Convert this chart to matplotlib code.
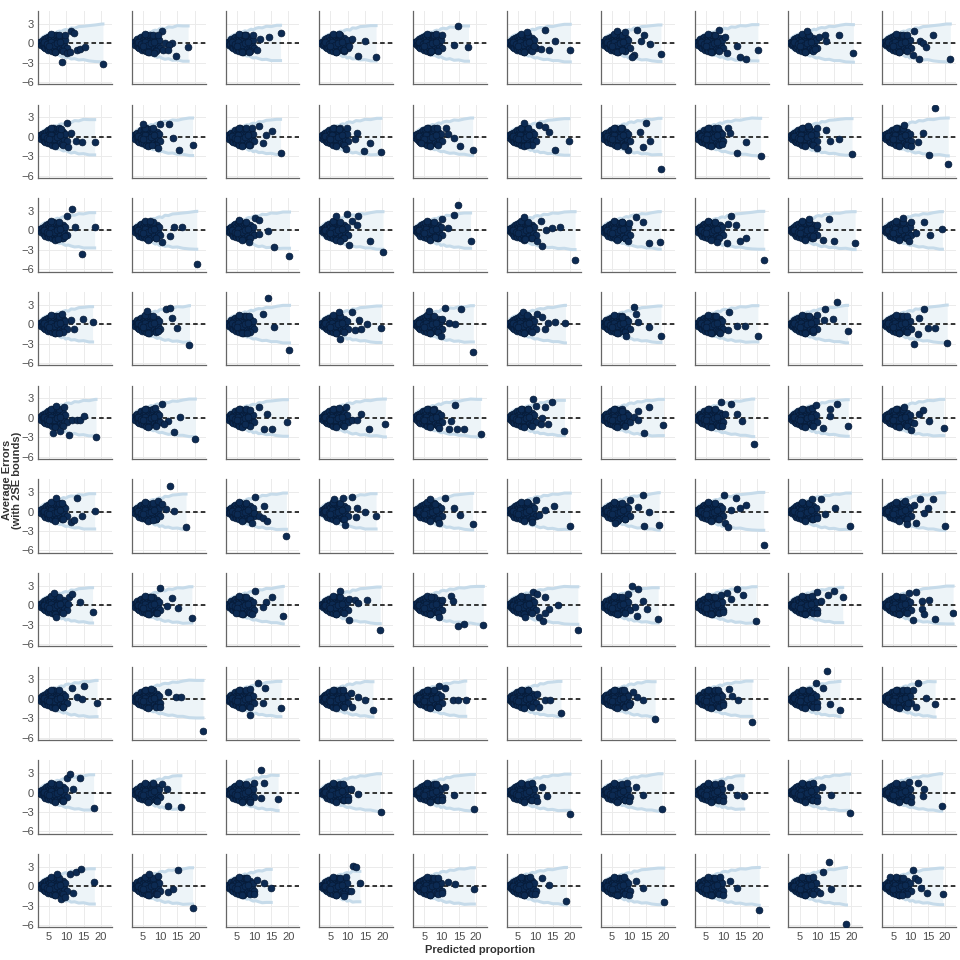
import numpy as np
import matplotlib
matplotlib.use("Agg")
from matplotlib import pyplot as plt

plt.rcParams['font.family'] = ['Liberation Sans', 'DejaVu Sans']

# Dense cluster of small predicted values (same shape in every panel).
cluster_x = [2.1, 2.4, 2.8, 3.0, 3.2, 3.4, 3.6, 3.8, 3.9, 4.1, 4.3, 4.4, 4.6, 4.8, 4.9,
             5.1, 5.3, 5.4, 5.6, 5.8, 6.0, 6.1, 6.3, 6.5, 6.7, 6.9, 7.0, 7.2, 7.4, 7.6,
             7.9, 8.1, 8.4, 8.7, 9.0, 9.3, 9.7, 10.1, 3.5, 4.5, 5.5, 6.4, 7.3, 8.3, 5.0,
             5.7, 6.6, 7.8, 8.9]
cluster_y = [0.0, 0.2, -0.3, 0.4, -0.1, 0.6, -0.6, 0.3, -0.8, 0.8, 0.0, -0.5, 1.0, -1.0, 0.5,
             -0.2, 1.1, -0.9, 0.6, -1.2, 1.3, 0.1, -0.7, 0.9, -1.3, 0.4, 1.2, -0.4, -1.0, 0.7,
             1.0, -0.6, 0.3, -1.1, 0.8, -0.3, 0.5, -0.7, 0.1, -0.2, 0.2, -0.3, 0.0, 0.2, -0.4,
             1.4, -1.4, 1.3, -1.2]

# 2SE bound profiles.
band_x = [2.0, 2.6, 3.2, 3.8, 4.4, 5.0, 5.6, 6.2, 6.8, 7.4, 8.0, 8.6, 9.2, 9.8, 10.6,
          11.4, 12.4, 13.6, 15.0, 16.6, 18.4, 20.4, 22.6]
upper_a = [0.3, 0.7, 0.95, 1.15, 1.3, 1.4, 1.5, 1.6, 1.55, 1.75, 1.85, 1.8, 2.0, 2.1, 2.0,
           2.35, 2.3, 2.55, 2.6, 2.7, 2.8, 2.95, 3.0]
lower_a = [-0.3, -0.7, -0.95, -1.15, -1.3, -1.45, -1.5, -1.65, -1.8, -1.7, -1.9, -2.1, -2.0,
           -2.3, -2.2, -2.45, -2.4, -2.6, -2.55, -2.75, -2.85, -2.9, -3.0]
upper_b = [0.3, 0.65, 0.9, 1.1, 1.25, 1.45, 1.4, 1.6, 1.7, 1.65, 1.9, 2.0, 1.9, 2.2, 2.3,
           2.2, 2.5, 2.45, 2.7, 2.65, 2.85, 2.9, 3.0]
lower_b = [-0.3, -0.65, -0.9, -1.1, -1.3, -1.35, -1.55, -1.6, -1.75, -1.9, -1.85, -2.05, -2.2,
           -2.1, -2.35, -2.5, -2.4, -2.65, -2.6, -2.8, -2.75, -2.95, -3.0]
upper_c = [0.35, 0.75, 1.0, 1.2, 1.3, 1.45, 1.6, 1.55, 1.75, 1.9, 1.8, 2.0, 2.15, 2.05, 2.3,
           2.4, 2.35, 2.6, 2.55, 2.75, 2.9, 2.85, 3.0]
lower_c = [-0.35, -0.7, -1.0, -1.2, -1.25, -1.5, -1.6, -1.7, -1.65, -1.85, -2.0, -1.95, -2.15,
           -2.3, -2.25, -2.4, -2.55, -2.5, -2.7, -2.7, -2.9, -2.95, -3.0]
uppers = [upper_a, upper_b, upper_c]
lowers = [lower_a, lower_b, lower_c]

# Points outside the main cluster, one list per panel, by row.
row0 = [[(11.5, 1.9), (12.2, 1.5), (9.6, 1.3), (10.1, -1.6), (11.0, -1.35), (13.2, -1.1), (13.9, -0.9), (15.4, -0.6), (8.7, -2.95), (20.6, -3.3)],
        [(10.4, 1.9), (9.5, 1.3), (11.4, 0.0), (13.3, 0.05), (12.6, -0.3), (10.9, -1.1), (12.3, -1.0), (8.2, -1.5), (14.7, -2.0), (18.1, -0.6)],
        [(7.3, 1.3), (9.6, 1.2), (11.7, 0.7), (14.3, 0.9), (17.7, 1.6), (10.8, -1.1), (8.7, -1.4)],
        [(7.5, 1.45), (11.3, 0.7), (15.1, 0.25), (9.0, -1.1), (13.0, -2.0), (18.2, -2.2), (10.5, -0.4)],
        [(8.4, 1.45), (10.1, 1.3), (14.7, 2.6), (13.5, -0.25), (17.8, -0.6), (7.0, -1.2)],
        [(7.5, 1.7), (12.8, 2.0), (15.8, 0.4), (11.5, -0.9), (14.0, -1.0), (20.1, -1.0), (9.5, -0.5)],
        [(6.6, 1.8), (8.9, 1.7), (12.3, 2.0), (14.4, 1.3), (13.5, 0.4), (16.1, -0.1), (11.5, -1.9), (10.9, -2.2), (19.2, -1.75), (8.0, -1.0)],
        [(8.9, 2.0), (10.5, 1.0), (14.0, -0.5), (11.1, -1.55), (14.9, -2.2), (16.6, -2.4), (20.1, -1.1)],
        [(7.3, 1.8), (12.5, 1.2), (16.3, 1.2), (12.8, 0.25), (9.4, -0.9), (20.6, -1.5), (10.5, 0.9)],
        [(11.1, 1.8), (16.6, 1.2), (12.8, 0.4), (13.5, 0.05), (14.6, -0.6), (10.6, -1.9), (12.3, -2.4), (21.5, -2.4), (9.0, 1.3)]]
row1 = [[(10.1, 2.1), (11.3, 0.6), (12.7, -0.7), (14.6, -0.8), (18.2, -0.8), (10.4, -1.55), (8.5, 1.2)],
        [(5.1, 1.9), (9.9, 1.9), (12.7, 1.9), (13.7, -0.25), (7.7, -1.3), (9.4, -1.8), (15.4, -2.1), (19.4, -1.2)],
        [(9.5, 1.4), (11.6, 1.7), (15.1, 0.9), (13.4, 0.35), (12.5, -0.9), (17.7, -2.5), (8.5, -1.2)],
        [(9.9, 1.4), (12.7, 0.6), (12.1, -0.35), (16.5, -0.9), (9.6, -1.9), (14.7, -2.2), (19.6, -2.4), (7.5, 1.2)],
        [(8.7, 1.4), (11.3, 1.3), (11.8, 0.5), (13.5, -0.15), (15.2, -1.45), (19.0, -2.1), (4.0, -0.9)],
        [(6.8, 2.1), (11.1, 1.8), (12.7, 1.55), (14.0, 0.8), (7.5, -1.3), (15.8, -2.1), (19.7, -0.7)],
        [(7.5, 1.4), (13.0, 0.8), (14.9, 2.1), (16.1, -0.7), (13.9, -1.55), (9.7, -2.1), (19.2, -5.0), (8.5, -1.5)],
        [(8.5, 1.3), (11.5, 1.3), (12.0, 0.6), (9.7, -1.1), (16.6, -0.8), (14.0, -2.5), (20.9, -2.95)],
        [(7.5, 1.7), (10.2, 1.4), (12.8, 1.0), (13.7, -0.7), (16.3, -0.35), (10.2, -1.7), (20.2, -2.6)],
        [(8.0, 1.8), (13.5, 0.6), (12.0, -0.8), (10.2, -1.4), (15.4, -2.75), (17.0, 4.5), (20.9, -4.25)]]
row2 = [[(10.1, 2.3), (11.7, 3.35), (12.6, 0.5), (18.2, 0.5), (9.6, -0.8), (14.4, -3.6), (7.5, -1.3)],
        [(7.0, 1.5), (14.0, 0.6), (16.3, 0.6), (12.8, -0.8), (10.6, -1.8), (20.6, -5.2)],
        [(5.6, 1.55), (10.4, 1.9), (11.6, 1.55), (14.2, -0.15), (11.6, -0.6), (8.7, -1.8), (15.9, -2.6), (20.3, -4.0)],
        [(6.6, 2.3), (9.9, 2.6), (13.0, 2.3), (11.3, 1.4), (12.7, 0.8), (7.8, -1.55), (10.4, -2.3), (16.5, -1.65), (20.2, -3.4)],
        [(10.1, 1.7), (11.8, 0.35), (13.5, 2.4), (14.9, 3.9), (18.4, -1.65), (8.0, -1.0)],
        [(6.8, 2.1), (11.5, 1.4), (13.2, 0.0), (14.9, 0.35), (17.1, 0.5), (7.1, -1.3), (10.6, -1.7), (12.0, -2.45), (21.5, -4.5)],
        [(8.0, 1.3), (10.0, 1.1), (12.1, 2.1), (13.9, 1.3), (9.6, -1.55), (15.6, -1.9), (19.0, -1.8)],
        [(11.5, 1.0), (12.3, 2.3), (13.7, 0.9), (8.4, -1.8), (11.1, -1.9), (14.9, -1.55), (16.6, -1.2), (21.8, -4.55)],
        [(7.7, 1.8), (10.2, 0.8), (13.4, 1.8), (11.9, -1.4), (15.1, -1.7), (21.1, -2.0), (9.0, -0.8)],
        [(7.7, 1.9), (10.0, 1.3), (14.0, 1.3), (19.2, 0.25), (15.7, -0.7), (9.4, -1.55), (11.5, -0.4)]]
row3 = [[(8.7, 1.6), (11.3, 0.7), (14.7, 0.8), (17.6, 0.4), (12.1, -0.8), (7.8, -1.4)],
        [(6.3, 2.1), (11.6, 2.3), (12.8, 2.5), (13.4, 0.9), (14.9, -0.6), (18.5, -3.2), (9.5, -1.0)],
        [(8.7, 1.2), (12.5, 1.6), (14.2, 4.0), (15.9, -0.45), (20.3, -4.0), (8.0, -1.3)],
        [(7.5, 1.8), (11.3, 1.8), (13.4, 0.7), (15.6, 0.05), (19.6, -0.6), (13.9, -0.8), (12.1, -0.9), (7.8, -2.3)],
        [(6.3, 2.0), (10.9, 2.5), (15.6, 2.3), (10.1, 0.8), (12.3, 0.15), (13.9, 0.05), (9.7, -1.9), (19.2, -4.25)],
        [(6.3, 1.8), (7.5, 1.4), (10.6, 1.6), (12.0, 1.1), (13.7, 0.15), (15.8, 0.4), (18.7, 0.25), (12.7, -0.8)],
        [(11.5, 2.6), (12.1, 1.6), (12.7, 0.4), (15.8, -0.45), (9.2, -1.9), (19.2, -1.9), (8.0, 1.1)],
        [(8.0, 1.2), (11.8, 1.8), (14.0, -0.25), (16.3, -0.25), (11.5, -0.9), (20.1, -1.9), (9.0, -1.3)],
        [(10.2, 1.45), (12.0, 0.7), (12.5, 2.3), (14.6, 0.8), (15.8, 3.35), (18.9, -1.0), (9.0, -0.9)],
        [(9.0, 1.2), (12.3, 0.9), (14.0, 2.3), (14.9, -0.6), (17.0, -0.6), (12.0, -1.55), (11.1, -3.05), (20.6, -2.85)]]
row4 = [[(7.0, 1.85), (9.2, 1.7), (11.6, -0.35), (13.0, -0.35), (14.0, -0.3), (15.1, 0.3), (6.1, -2.3), (8.1, -2.0), (10.7, -2.65), (18.6, -2.95)],
        [(8.5, 1.5), (10.6, 2.2), (12.3, -0.55), (11.1, -1.0), (15.8, 0.15), (14.0, -2.2), (20.2, -3.2)],
        [(9.0, 1.2), (11.6, 1.7), (13.9, 0.55), (13.0, -1.65), (15.1, -1.75), (19.7, -0.7), (7.5, -0.9)],
        [(7.5, 1.5), (9.6, 1.7), (13.9, 0.65), (11.3, -0.4), (12.7, -0.35), (16.1, -1.75), (20.9, -0.9)],
        [(7.5, 1.2), (13.9, 2.0), (12.7, -0.45), (9.2, -1.5), (12.1, -1.65), (14.4, -1.75), (16.6, -1.75), (21.3, -2.45)],
        [(8.0, 1.35), (9.2, 2.9), (10.2, 1.85), (12.7, 1.6), (14.9, 2.4), (12.0, 0.05), (11.5, -1.0), (13.7, -1.0), (18.4, -2.0)],
        [(8.0, 1.0), (12.7, 1.1), (15.8, 1.7), (11.5, 0.15), (12.7, -0.35), (14.4, -2.3), (19.9, -1.15)],
        [(9.4, 2.4), (12.3, 2.2), (10.6, 0.55), (14.0, 0.65), (15.4, -0.45), (9.7, -1.25), (18.9, -4.0)],
        [(8.5, 1.5), (9.9, 2.0), (13.7, 1.35), (13.7, 0.3), (15.8, 2.2), (11.9, -1.5), (19.1, -1.25)],
        [(8.0, 1.6), (12.3, 0.55), (13.7, 1.2), (15.4, -0.55), (10.2, -1.9), (19.6, -1.5), (11.0, -0.8)]]
row5 = [[(7.0, 2.05), (8.7, 1.25), (13.0, 2.05), (18.2, 0.1), (14.4, -0.7), (11.3, -1.55), (12.1, -1.35)],
        [(9.4, 1.65), (10.5, 1.2), (11.6, 0.35), (12.8, 4.0), (14.0, 0.1), (17.5, -2.4), (8.0, -1.3)],
        [(10.4, 2.2), (13.0, 0.9), (9.9, -0.3), (11.6, -0.7), (12.5, -1.0), (9.4, -1.7), (13.9, -1.45), (19.4, -3.8)],
        [(6.1, 1.9), (8.7, 2.05), (11.3, 2.2), (12.7, 0.6), (15.1, -0.15), (18.2, -0.7), (12.5, -0.85), (9.2, -2.1)],
        [(6.6, 1.9), (10.9, 2.05), (13.5, 0.5), (15.2, -0.5), (9.2, -1.7), (19.0, -2.0), (8.0, 1.2)],
        [(7.5, 1.4), (10.2, 1.75), (12.7, 0.2), (15.4, 0.9), (8.9, -1.55), (20.1, -2.2), (11.0, -0.6)],
        [(10.1, 1.75), (12.7, 0.7), (14.0, 2.6), (15.8, 0.0), (5.8, -1.7), (14.4, -2.2), (18.7, -2.1)],
        [(10.2, 2.6), (13.7, 2.05), (16.6, 1.05), (14.9, 0.5), (12.3, 0.2), (10.6, -1.7), (11.5, -2.4), (21.8, -5.2)],
        [(8.5, 1.9), (11.1, 1.9), (12.5, -0.4), (15.4, 0.6), (19.7, -2.2), (10.0, -1.0)],
        [(8.3, 1.65), (11.0, 1.0), (12.8, 1.9), (16.6, 1.9), (14.9, 0.6), (14.0, -0.3), (11.5, -1.85), (8.9, -2.0), (19.9, -2.3)]]
row6 = [[(6.5, 1.95), (10.9, 1.3), (11.6, 1.8), (10.4, 0.15), (13.9, 0.55), (17.6, -1.05), (7.0, -1.8)],
        [(7.5, 1.2), (9.9, 2.65), (12.0, -0.1), (13.4, 1.1), (15.1, -0.45), (19.2, -2.05), (9.0, -1.2)],
        [(10.4, 2.2), (13.4, 0.55), (15.1, 1.3), (12.5, -0.25), (18.5, -1.65), (4.7, -1.15), (9.5, -1.4)],
        [(7.8, 2.2), (10.5, 1.0), (12.1, 0.8), (15.6, 0.8), (13.0, 0.4), (10.4, -2.35), (19.4, -3.85)],
        [(7.0, 1.3), (10.1, 0.8), (12.7, 1.45), (13.2, 0.65), (9.2, -1.9), (14.9, -3.2), (16.6, -2.95), (22.1, -3.05)],
        [(9.2, 2.1), (10.6, 1.7), (12.7, 1.3), (16.6, 0.05), (14.0, -0.6), (12.7, -1.15), (11.1, -1.8), (12.3, -2.45), (7.1, -1.9), (22.3, -3.85)],
        [(9.7, 1.7), (10.9, 3.0), (12.7, 2.5), (13.9, 0.7), (11.8, -0.25), (15.2, -0.6), (12.3, -1.65), (18.4, -2.2)],
        [(9.5, 1.5), (11.1, 1.95), (12.3, 0.95), (14.0, 2.5), (15.7, 1.6), (19.6, -2.45), (10.0, -1.0)],
        [(8.5, 1.4), (10.2, 2.1), (11.1, 0.7), (13.2, 1.6), (14.9, 2.2), (17.5, 1.2), (10.0, -1.2)],
        [(9.4, 1.95), (11.5, 2.1), (13.2, 0.65), (15.4, 0.75), (13.2, -0.6), (14.0, -1.4), (10.6, -2.3), (17.2, -2.2), (22.3, -1.15)]]
row7 = [[(11.6, 1.7), (15.1, 2.0), (13.0, 0.3), (14.5, 0.0), (18.9, -0.7), (9.0, -1.2)],
        [(7.5, 1.5), (12.3, 1.0), (14.6, 0.3), (16.0, 0.3), (10.0, -1.2), (22.4, -5.0)],
        [(9.0, 1.5), (11.2, 2.5), (13.2, 1.7), (12.6, -0.6), (8.9, -2.5), (17.8, -1.4)],
        [(8.5, 1.3), (11.0, 0.9), (13.0, 0.3), (15.0, -0.15), (11.2, -1.2), (17.3, -1.7)],
        [(9.3, 2.0), (11.0, 1.7), (13.3, -0.1), (14.7, -0.1), (17.0, -0.15), (9.0, -1.3)],
        [(8.0, 1.3), (10.5, 0.8), (12.8, -0.1), (14.2, -0.1), (11.0, -1.2), (17.4, -2.2)],
        [(8.5, 1.3), (12.3, 0.3), (14.0, -0.1), (10.0, -1.0), (17.5, -3.1), (11.0, 1.0)],
        [(8.5, 1.3), (11.7, 1.5), (14.3, -0.15), (10.0, -1.0), (18.4, -3.6), (12.5, 0.5)],
        [(9.8, 2.5), (11.8, 1.7), (13.0, 4.3), (13.8, -0.8), (16.7, -1.7), (10.0, -1.2)],
        [(9.0, 1.3), (10.8, 1.4), (12.2, 2.5), (14.5, 0.15), (17.1, -0.8), (9.3, -0.6), (11.5, -1.2)]]
row8 = [[(10.2, 2.2), (11.0, 2.8), (14.0, 2.3), (12.0, 0.5), (9.0, -1.3), (17.9, -2.4)],
        [(8.0, 1.5), (10.5, 1.3), (12.0, 0.5), (12.3, -2.0), (16.0, -2.3), (9.0, -1.3)],
        [(10.0, 1.5), (12.0, 3.5), (13.0, 1.5), (12.0, -0.8), (9.0, -1.5), (17.0, -1.0)],
        [(8.5, 1.3), (11.0, 0.5), (13.0, -0.3), (10.0, -1.2), (19.5, -3.0)],
        [(8.5, 1.3), (11.0, 0.8), (13.5, -0.4), (10.0, -1.2), (19.5, -2.5)],
        [(9.0, 1.5), (12.0, 0.9), (13.5, -0.5), (10.5, -1.3), (20.0, -3.3)],
        [(9.5, 1.4), (12.0, 0.8), (14.0, -0.4), (10.0, -1.3), (19.5, -2.5)],
        [(9.5, 1.4), (12.0, 0.8), (14.0, -0.4), (10.0, -1.3), (16.0, -0.5)],
        [(9.0, 1.5), (11.5, 0.8), (14.0, -0.4), (10.0, -1.3), (19.5, -3.2)],
        [(9.5, 1.6), (12.0, 1.4), (14.0, 0.6), (13.5, -0.6), (10.0, -1.4), (19.0, -2.0)]]
row9 = [[(7.4, 1.85), (11.1, 1.85), (12.8, 2.2), (14.2, 2.7), (18.1, 0.7), (8.6, -1.9), (9.5, -1.65), (11.8, -1.1)],
        [(6.8, 1.85), (9.5, 1.55), (15.2, 2.5), (12.3, -0.9), (13.6, -0.5), (9.0, -1.15), (19.4, -3.4)],
        [(8.0, 1.2), (11.0, 1.0), (13.0, 0.5), (10.0, -1.2), (15.0, -0.3)],
        [(9.5, 1.5), (11.5, 3.2), (12.5, 3.0), (11.0, -0.8), (9.0, -1.5), (13.5, 0.5)],
        [(9.0, 1.3), (12.0, 0.7), (14.0, 0.3), (10.0, -1.0), (19.5, -0.5)],
        [(8.5, 1.5), (12.0, 1.2), (14.0, 0.2), (10.0, -1.2), (19.0, -2.3)],
        [(8.5, 1.4), (12.0, 0.8), (14.0, -0.3), (10.0, -1.3), (20.0, -2.5)],
        [(9.0, 1.5), (12.0, 0.8), (14.0, -0.2), (10.0, -1.4), (20.5, -3.6)],
        [(9.0, 1.5), (11.8, 2.2), (13.5, 3.7), (11.0, -1.0), (14.0, -0.5), (18.6, -5.8)],
        [(3.9, 1.35), (10.6, 2.5), (11.3, 1.2), (12.1, 0.95), (12.9, -0.35), (14.7, -1.0), (7.4, -1.4), (19.3, -1.15)]]
rows = [row0, row1, row2, row3, row4, row5, row6, row7, row8, row9]

fig, axes = plt.subplots(10, 10, figsize=(9.6, 9.6), dpi=100, sharex=True, sharey=True)
fig.subplots_adjust(left=0.0396, right=0.996, bottom=0.034, top=0.9885,
                    wspace=0.27, hspace=0.28)

for r in range(10):
    for c in range(10):
        ax = axes[r, c]
        extra = rows[r][c]
        ex = [p[0] for p in extra]
        ey = [p[1] for p in extra]
        xs = cluster_x + ex
        ys = cluster_y + ey

        # Band stops at the largest predicted value in the panel.
        k = (r * 10 + c) % 3
        xmax = max(xs)
        bx = [x for x in band_x if x < xmax]
        n = len(bx)
        up = uppers[k][:n] + [uppers[k][n - 1]]
        lo = lowers[k][:n] + [lowers[k][n - 1]]
        bx = bx + [xmax]

        ax.fill_between(bx, lo, up, color='#edf4f8', lw=0, zorder=1)
        ax.plot(bx, up, color='#c6dbea', lw=2.2, zorder=1.5)
        ax.plot(bx, lo, color='#c6dbea', lw=2.2, zorder=1.5)
        ax.axhline(0, color='black', lw=1.1, ls=(0, (3, 2)), zorder=2)
        ax.scatter(xs, ys, s=24, c='#0c2a52', edgecolors='#061a36', linewidths=0.5, zorder=3)

        ax.set_xlim(1.8, 23.2)
        ax.set_ylim(-6.35, 4.95)
        ax.set_xticks([5, 10, 15, 20])
        ax.set_yticks([-6, -3, 0, 3])
        ax.grid(True, color='#ebebeb', lw=0.7)
        ax.set_axisbelow(True)
        for side in ['top', 'right']:
            ax.spines[side].set_visible(False)
        for side in ['left', 'bottom']:
            ax.spines[side].set_color('#666666')
            ax.spines[side].set_linewidth(0.9)
        ax.tick_params(length=0, labelsize=8, labelcolor='#4d4d4d', pad=3)

fig.text(0.0125, 0.5, 'Average Errors\n(with 2SE bounds)', rotation=90, ha='center',
         va='center', fontsize=8, fontweight='bold', color='#333333', linespacing=1.0)
fig.text(0.5, 0.01, 'Predicted proportion', ha='center', va='center', fontsize=8,
         fontweight='bold', color='#333333')

plt.savefig('out.png', dpi=100)
